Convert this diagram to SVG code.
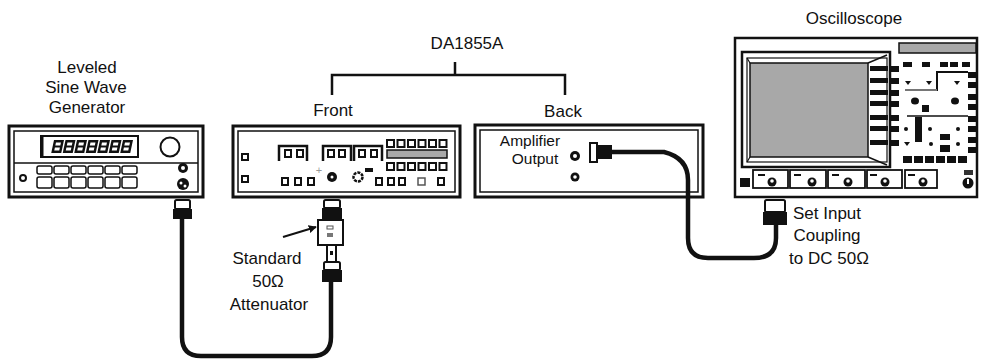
<svg xmlns="http://www.w3.org/2000/svg" width="982" height="363" viewBox="0 0 982 363">
<defs>
<style>
.t{font-family:"Liberation Sans",Arial,sans-serif;font-size:17px;fill:#111;text-anchor:middle}
.ts{font-size:15.5px}
.bo{fill:#fff;stroke:#111;stroke-width:3}
.bi{fill:none;stroke:#111;stroke-width:1.5}
.cable{fill:none;stroke:#111;stroke-width:4.5;stroke-linejoin:round}
.sq{fill:#fff;stroke:#111;stroke-width:2}
.btn{fill:#fff;stroke:#111;stroke-width:1.5}
.blk{fill:#111}
.gry{fill:#a8a8a8;stroke:#111;stroke-width:1.5}
.ln{fill:none;stroke:#111;stroke-width:2.5}
.bncw{fill:#fff;stroke:#111;stroke-width:2}
</style>
<marker id="ah" viewBox="0 0 10 10" refX="9" refY="5" markerWidth="4" markerHeight="4" orient="auto"><path d="M0,0 L10,5 L0,10 z" fill="#111"/></marker>
<g id="digit"><rect x="0" y="0" width="10" height="13" fill="#111"/><rect x="2.5" y="2.5" width="5" height="3" fill="#fff"/><rect x="2.5" y="7.5" width="5" height="3" fill="#fff"/></g>
</defs>
<rect width="982" height="363" fill="#fff"/>

<!-- Labels -->
<g id="labels">
<text class="t" x="87" y="73">Leveled</text>
<text class="t" x="86" y="93">Sine Wave</text>
<text class="t" x="87" y="113">Generator</text>
<text class="t" x="467" y="49">DA1855A</text>
<text class="t" x="333" y="116">Front</text>
<text class="t" x="563" y="117">Back</text>
<text class="t" x="854" y="24">Oscilloscope</text>
<text class="t" x="267" y="264">Standard</text>
<text class="t" x="268" y="287">50Ω</text>
<text class="t" x="269" y="310">Attenuator</text>
<text class="t" x="827" y="219">Set Input</text>
<text class="t" x="827" y="241">Coupling</text>
<text class="t" x="829" y="264">to DC 50Ω</text>
</g>

<!-- Generator -->
<g id="generator">
<rect class="bo" x="9" y="126" width="194" height="71"/>
<rect class="bi" x="14" y="131" width="184" height="61"/>
<line x1="14" y1="163" x2="198" y2="163" stroke="#111" stroke-width="1.5"/>
<rect x="41" y="136" width="97" height="21" fill="#fff" stroke="#111" stroke-width="2"/>
<line x1="42" y1="136" x2="42" y2="157" stroke="#111" stroke-width="3"/>
<g transform="translate(0,140) skewX(-12)">
<use href="#digit" x="54"/><use href="#digit" x="65.5"/><use href="#digit" x="77"/><use href="#digit" x="88.5"/><use href="#digit" x="100"/><use href="#digit" x="111.5"/><use href="#digit" x="123"/>
</g>
<circle cx="170" cy="147" r="9.5" fill="#fff" stroke="#111" stroke-width="2"/>
<circle cx="23" cy="178" r="3" fill="#fff" stroke="#111" stroke-width="2"/>
<g>
<rect class="btn" x="37" y="166" width="15" height="8" rx="2"/><rect class="btn" x="54" y="166" width="15" height="8" rx="2"/><rect class="btn" x="71" y="166" width="15" height="8" rx="2"/><rect class="btn" x="88" y="166" width="15" height="8" rx="2"/><rect class="btn" x="105" y="166" width="15" height="8" rx="2"/><rect class="btn" x="122" y="166" width="15" height="8" rx="2"/>
<rect class="btn" x="37" y="177" width="15" height="11" rx="2"/><rect class="btn" x="54" y="177" width="15" height="11" rx="2"/><rect class="btn" x="71" y="177" width="15" height="11" rx="2"/><rect class="btn" x="88" y="177" width="15" height="11" rx="2"/><rect class="btn" x="105" y="177" width="15" height="11" rx="2"/><rect class="btn" x="122" y="177" width="15" height="11" rx="2"/>
</g>
<circle cx="183" cy="168" r="5" class="blk"/><circle cx="183" cy="168" r="2" fill="#fff"/>
<circle cx="183" cy="184" r="6" class="blk"/><circle cx="181" cy="183" r="1.5" fill="#fff"/><circle cx="185" cy="186" r="1.5" fill="#fff"/>
<rect class="bncw" x="175" y="200" width="15" height="9" rx="1.5"/>
<rect class="blk" x="173" y="209" width="19" height="10"/>
</g>

<!-- DA1855A Front -->
<g id="da1855a-front">
<rect class="bo" x="233" y="126" width="227" height="71"/>
<rect class="bi" x="238" y="131" width="217" height="61"/>
<rect class="sq" x="242" y="154" width="6" height="6"/>
<rect class="sq" x="242" y="176" width="6" height="6"/>
<path class="ln" d="M279,161 V146 H307 V161" stroke-width="2"/>
<rect class="sq" x="285" y="150" width="6" height="7"/><rect class="sq" x="297" y="150" width="6" height="7"/>
<path class="ln" d="M323,161 V146 H351 V161" stroke-width="2"/>
<rect class="sq" x="328" y="150" width="6" height="7"/><rect class="sq" x="339" y="150" width="6" height="7"/>
<path class="ln" d="M354,161 V146 H382 V161" stroke-width="2"/>
<rect class="sq" x="359" y="150" width="6" height="7"/><rect class="sq" x="371" y="150" width="6" height="7"/>
<rect class="sq" x="387" y="140" width="7" height="7"/><rect class="sq" x="397.5" y="140" width="7" height="7"/><rect class="sq" x="408" y="140" width="7" height="7"/><rect class="sq" x="418.5" y="140" width="7" height="7"/><rect class="sq" x="429" y="140" width="7" height="7"/><rect class="sq" x="439.5" y="140" width="7" height="7"/>
<rect class="gry" x="387" y="150" width="60" height="8"/>
<rect class="sq" x="387" y="163" width="7" height="7"/><rect class="sq" x="397.5" y="163" width="7" height="7"/><rect class="sq" x="408" y="163" width="7" height="7"/><rect class="sq" x="418.5" y="163" width="7" height="7"/><rect class="sq" x="429" y="163" width="7" height="7"/><rect class="sq" x="439.5" y="163" width="7" height="7"/>
<rect class="sq" x="282" y="178" width="6" height="7"/><rect class="sq" x="295" y="178" width="6" height="7"/><rect class="sq" x="308" y="178" width="6" height="7"/>
<text x="319" y="174" font-family="Liberation Sans,Arial,sans-serif" font-size="11" fill="#999" text-anchor="middle">+</text>
<circle cx="332" cy="177" r="5" class="blk"/><circle cx="332" cy="177" r="1.5" fill="#fff"/>
<circle cx="358" cy="177" r="4.5" fill="#fff" stroke="#111" stroke-width="2.5" stroke-dasharray="3 1"/>
<rect class="blk" x="365" y="168" width="8" height="4"/>
<rect class="sq" x="376" y="178" width="6" height="7"/><rect class="sq" x="388" y="178" width="6" height="7"/><rect class="sq" x="399" y="178" width="6" height="7"/>
<rect x="418" y="178" width="7" height="7" fill="#fff" stroke="#555" stroke-width="1.5"/>
<rect class="sq" x="438" y="178" width="6" height="7"/>
</g>

<!-- DA1855A Back -->
<g id="da1855a-back">
<rect class="bo" x="475" y="125" width="228" height="72"/>
<rect class="bi" x="480" y="130" width="218" height="62"/>
<text class="t ts" x="530" y="146">Amplifier</text>
<text class="t ts" x="535" y="164">Output</text>
<circle cx="575" cy="156" r="5" class="blk"/><circle cx="575" cy="156" r="2" fill="#fff"/>
<circle cx="575" cy="177" r="4.5" class="blk"/><circle cx="575" cy="177" r="1.8" fill="#fff"/>
<path class="bncw" d="M590,143 H597 V162 H590 Z"/>
<rect class="blk" x="597" y="145" width="15" height="14"/>
</g>

<!-- Oscilloscope -->
<g id="oscilloscope">
<rect x="735" y="38" width="242" height="159" fill="#fff" stroke="#111" stroke-width="2.5"/>
<rect x="742" y="52" width="148" height="115" fill="#fff" stroke="#111" stroke-width="2.5"/>
<rect x="747" y="58" width="140" height="104" fill="none" stroke="#111" stroke-width="1.2"/>
<rect x="750" y="63" width="118" height="94" fill="#a8a8a8" stroke="#111" stroke-width="1.5"/>
<line x1="868" y1="63" x2="887" y2="55" stroke="#111" stroke-width="1.5"/>
<line x1="868" y1="157" x2="887" y2="165" stroke="#111" stroke-width="1.5"/>
<line x1="747" y1="58" x2="750" y2="63" stroke="#111" stroke-width="1.2"/>
<line x1="747" y1="162" x2="750" y2="157" stroke="#111" stroke-width="1.2"/>
<rect class="gry" x="899" y="43" width="77" height="10"/>
<g class="blk">
<rect x="870" y="66" width="18" height="5"/><rect x="870" y="78" width="18" height="5"/><rect x="870" y="90" width="18" height="5"/><rect x="870" y="101" width="18" height="5"/><rect x="870" y="115" width="18" height="5"/><rect x="870" y="126" width="18" height="5"/><rect x="870" y="140" width="18" height="5"/>
<rect x="891" y="66" width="8" height="6"/><rect x="891" y="78" width="8" height="6"/><rect x="891" y="90" width="8" height="6"/><rect x="891" y="101" width="8" height="6"/><rect x="891" y="115" width="8" height="6"/><rect x="891" y="126" width="8" height="6"/><rect x="891" y="140" width="8" height="6"/>
<rect x="903" y="62" width="9" height="5"/><rect x="922" y="62" width="8" height="5"/><rect x="940" y="62" width="8" height="5"/><rect x="950" y="62" width="8" height="5"/><rect x="962" y="62" width="8" height="5"/>
<rect x="968" y="72" width="8" height="6"/><rect x="968" y="82" width="8" height="6"/><rect x="968" y="94" width="8" height="6"/><rect x="968" y="104" width="8" height="6"/><rect x="968" y="116" width="8" height="6"/><rect x="968" y="126" width="8" height="6"/><rect x="968" y="137" width="8" height="6"/><rect x="968" y="147" width="8" height="6"/>
<path d="M905,81 h6 l-3,4 z"/><path d="M926,81 h6 l-3,4 z"/><path d="M954,81 h6 l-3,4 z"/>
<ellipse cx="915" cy="101" rx="4" ry="3.5"/><ellipse cx="955" cy="101" rx="4" ry="3.5"/>
<rect x="922" y="105" width="7" height="7"/>
<rect x="915" y="117" width="7" height="25"/>
<circle cx="906" cy="129" r="2"/><circle cx="930" cy="129" r="2"/><circle cx="958" cy="129" r="2"/>
<rect x="940" y="134" width="10" height="6"/><rect x="940" y="145" width="10" height="7"/>
<path d="M904,142 h6 l-3,4 z"/><circle cx="931" cy="144" r="2"/><circle cx="958" cy="144" r="2"/>
<rect x="903" y="156" width="9" height="7"/><rect x="914" y="156" width="9" height="7"/><rect x="925" y="156" width="9" height="7"/><rect x="936" y="156" width="9" height="7"/><rect x="947" y="156" width="9" height="7"/><rect x="958" y="156" width="9" height="7"/>
</g>
<path d="M905,90 H937 V72 H968" fill="none" stroke="#111" stroke-width="2"/>
<line x1="905" y1="90" x2="937" y2="90" stroke="#999" stroke-width="1.5"/>
<line x1="907" y1="116" x2="968" y2="116" stroke="#111" stroke-width="1.5"/>
<rect class="blk" x="740" y="178" width="10" height="9"/>
<g>
<rect x="753" y="170" width="35" height="18" fill="#fff" stroke="#111" stroke-width="1.8"/>
<rect x="790" y="170" width="36" height="18" fill="#fff" stroke="#111" stroke-width="1.8"/>
<rect x="828" y="170" width="37" height="18" fill="#fff" stroke="#111" stroke-width="1.8"/>
<rect x="867" y="170" width="35" height="18" fill="#fff" stroke="#111" stroke-width="1.8"/>
<rect x="905" y="170" width="32" height="18" fill="#fff" stroke="#111" stroke-width="1.8"/>
<rect class="blk" x="758" y="174" width="7" height="2"/><rect class="blk" x="794" y="174" width="7" height="2"/><rect class="blk" x="832" y="174" width="7" height="2"/><rect class="blk" x="870" y="174" width="7" height="2"/><rect class="blk" x="908" y="174" width="7" height="2"/>
<circle cx="772" cy="182" r="4.5" class="blk"/><circle cx="812" cy="182" r="4.5" class="blk"/><circle cx="848" cy="182" r="4.5" class="blk"/><circle cx="885" cy="182" r="4.5" class="blk"/><circle cx="923" cy="182" r="4.5" class="blk"/>
<circle cx="772" cy="181" r="1.8" fill="#fff"/><circle cx="812" cy="181" r="1.8" fill="#fff"/><circle cx="848" cy="181" r="1.8" fill="#fff"/><circle cx="885" cy="181" r="1.8" fill="#fff"/><circle cx="923" cy="181" r="1.8" fill="#fff"/>
</g>
<rect x="964" y="170" width="9" height="5" fill="#333"/>
<circle cx="968" cy="183" r="5.5" class="blk"/><rect x="967" y="179" width="2" height="5" fill="#fff"/>
<rect class="bncw" x="765" y="200" width="20" height="12" rx="1.5"/>
<rect class="blk" x="763" y="212" width="24" height="13"/>
</g>

<!-- Attenuator -->
<g id="attenuator">
<rect class="bncw" x="324" y="200" width="16" height="8" rx="1.5"/>
<rect class="blk" x="322" y="208" width="20" height="12"/>
<rect x="318" y="220" width="25" height="25" fill="#fff" stroke="#111" stroke-width="2"/>
<rect x="327" y="226" width="6" height="3" fill="none" stroke="#555" stroke-width="1"/>
<rect x="327" y="233" width="6" height="4" fill="#777"/>
<rect x="327" y="245" width="9" height="17" fill="#fff" stroke="#111" stroke-width="2"/>
<rect class="blk" x="330" y="251" width="3" height="4"/>
<rect class="bncw" x="324" y="262" width="16" height="8" rx="1.5"/>
<rect class="blk" x="322" y="270" width="20" height="12"/>
</g>

<!-- Connectors -->
<g id="connectors">
<path class="cable" d="M182,219 V337 Q182,356 201,356 H312 Q331,356 331,337 V282"/>
<path class="cable" d="M612,152 H664 Q688,158 688,180 V238 Q688,258 708,258 H754 Q776,258 776,238 V225"/>
<path fill="none" stroke="#111" stroke-width="2.5" d="M332,95 V75 H565 V95 M455,62 V75"/>
<line x1="283" y1="237" x2="316" y2="227" stroke="#111" stroke-width="2" marker-end="url(#ah)"/>
</g>
</svg>
